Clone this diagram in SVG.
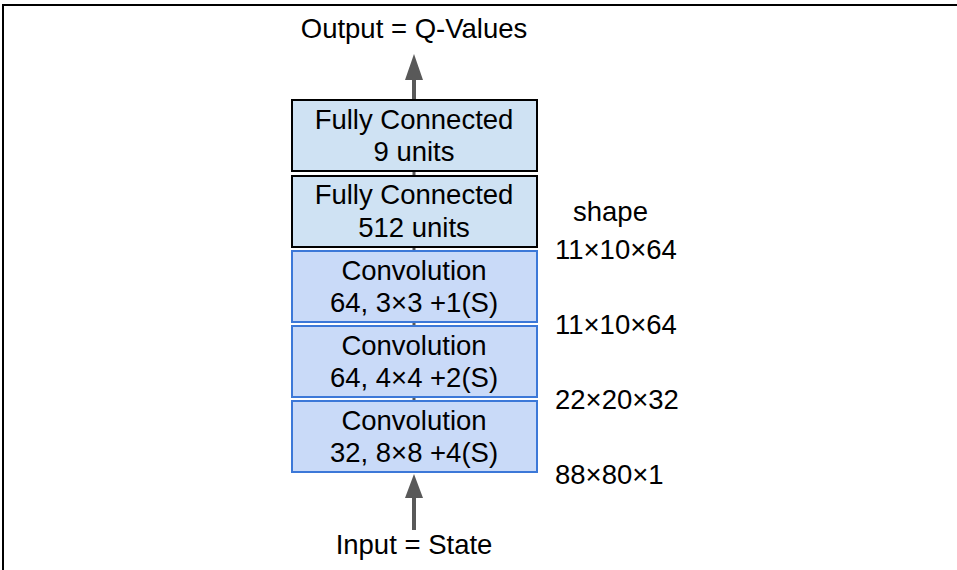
<svg xmlns="http://www.w3.org/2000/svg" width="957" height="570" viewBox="0 0 957 570">
<style>
text{font-family:"Liberation Sans",Arial,sans-serif;font-size:27.5px;fill:#000;}
.c{text-anchor:middle;}
.fc{fill:#cfe2f3;stroke:#000;stroke-width:2;}
.cv{fill:#c9daf8;stroke:#3c78d8;stroke-width:2;}
.ln{stroke:#595959;stroke-width:4;fill:none;}
.stub{stroke:#595959;stroke-width:3;fill:none;}
.ah{fill:#595959;}
</style>
<rect width="957" height="570" fill="#fff"/>
<path d="M3,570 V5 H957" fill="none" stroke="#000" stroke-width="2"/>
<g id="connectors">
<line class="ln" x1="414" y1="100" x2="414" y2="80"/>
<path class="ah" d="M414,54 L423,80 L405,80 Z"/>
<line class="ln" x1="414" y1="530" x2="414" y2="497"/>
<path class="ah" d="M414,474 L423,498 L405,498 Z"/>
<line class="stub" x1="414" y1="171" x2="414" y2="176"/>
<line class="stub" x1="414" y1="247" x2="414" y2="251"/>
<line class="stub" x1="414" y1="322" x2="414" y2="326"/>
<line class="stub" x1="414" y1="397" x2="414" y2="401"/>
</g>
<g id="output"><text class="c" x="414" y="38">Output = Q-Values</text></g>
<g id="fc9">
<rect class="fc" x="292" y="100" width="245" height="71"/>
<text class="c" x="414" y="129">Fully Connected</text>
<text class="c" x="414" y="161">9 units</text>
</g>
<g id="fc512">
<rect class="fc" x="292" y="176" width="245" height="71"/>
<text class="c" x="414" y="204">Fully Connected</text>
<text class="c" x="414" y="237">512 units</text>
</g>
<g id="conv3">
<rect class="cv" x="292" y="251" width="245" height="71"/>
<text class="c" x="414" y="280">Convolution</text>
<text class="c" x="414" y="312">64, 3×3 +1(S)</text>
</g>
<g id="conv2">
<rect class="cv" x="292" y="326" width="245" height="71"/>
<text class="c" x="414" y="355">Convolution</text>
<text class="c" x="414" y="387">64, 4×4 +2(S)</text>
</g>
<g id="conv1">
<rect class="cv" x="292" y="401" width="245" height="71"/>
<text class="c" x="414" y="430">Convolution</text>
<text class="c" x="414" y="462">32, 8×8 +4(S)</text>
</g>
<g id="input"><text class="c" x="414" y="554">Input = State</text></g>
<g id="shapes">
<text x="573" y="221">shape</text>
<text x="555" y="259">11×10×64</text>
<text x="555" y="334">11×10×64</text>
<text x="555" y="409">22×20×32</text>
<text x="555" y="484">88×80×1</text>
</g>
</svg>
